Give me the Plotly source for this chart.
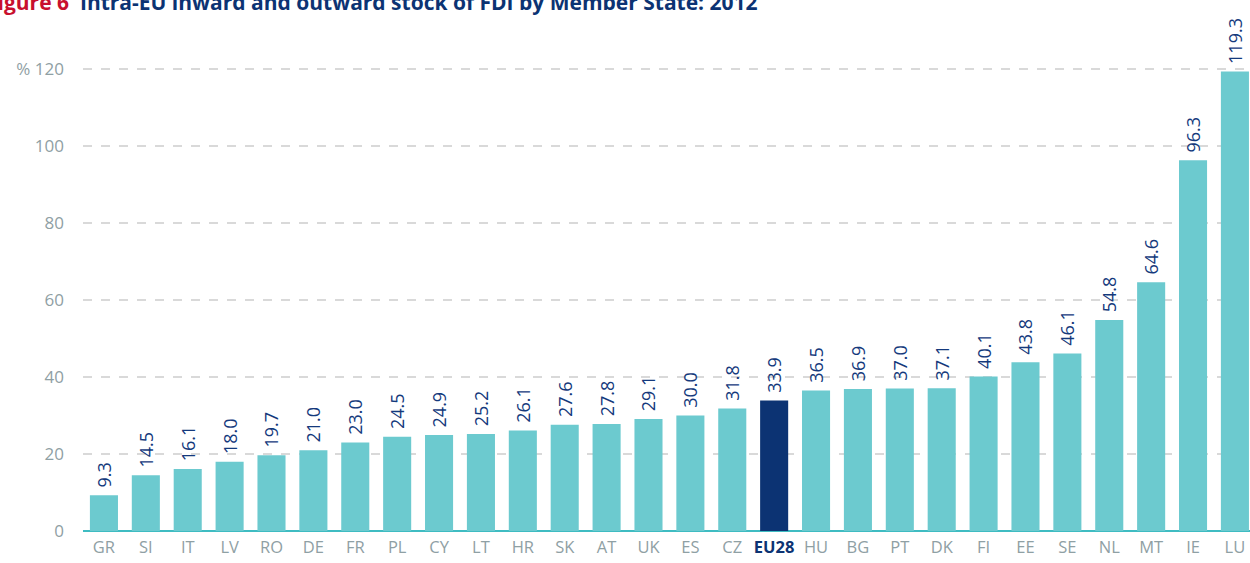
import plotly.graph_objects as go

countries = ["GR","SI","IT","LV","RO","DE","FR","PL","CY","LT","HR","SK","AT","UK","ES","CZ",
             "EU28","HU","BG","PT","DK","FI","EE","SE","NL","MT","IE","LU"]
values = [9.3,14.5,16.1,18.0,19.7,21.0,23.0,24.5,24.9,25.2,26.1,27.6,27.8,29.1,30.0,31.8,
          33.9,36.5,36.9,37.0,37.1,40.1,43.8,46.1,54.8,64.6,96.3,119.3]
y_ticks = [0,20,40,60,80,100,120]
y_ticktext = ["0","20","40","60","80","100","% 120"]

TEAL = "#6ccacf"
NAVY = "#0c3373"
LABEL = "#14397c"
GREY = "#8fa0a4"

colors = [NAVY if c == "EU28" else TEAL for c in countries]
ticktext = [f"<b><span style='color:{NAVY}'>{c}</span></b>" if c == "EU28" else c for c in countries]

fig = go.Figure(go.Bar(
    x=list(range(len(countries))), y=values,
    marker=dict(color=colors, line=dict(width=0)),
    text=[f"\u00a0{v:.1f}" for v in values],
    textposition="outside", textangle=-90,
    constraintext="none",
    textfont=dict(color=LABEL, size=18, family="Open Sans"),
    cliponaxis=False,
))

fig.update_layout(
    width=1250, height=563,
    margin=dict(l=83, r=0, t=0, b=32, autoexpand=False),
    plot_bgcolor="white", paper_bgcolor="white",
    bargap=0.33,
    showlegend=False,
    font=dict(family="Open Sans", color=GREY),
    xaxis=dict(
        range=[-0.5, 27.36],
        tickmode="array", tickvals=list(range(len(countries))), ticktext=ticktext,
        tickfont=dict(size=16.5, color=GREY),
        showgrid=False, zeroline=False, showline=False,
        ticks="", ticklabelstandoff=4, automargin=False,
    ),
    yaxis=dict(
        range=[0, 137.9],
        tickmode="array", tickvals=y_ticks, ticktext=y_ticktext,
        tickfont=dict(size=17, color=GREY),
        showgrid=True, gridcolor="#d9d9d9", griddash="dash", gridwidth=1.5,
        zeroline=True, zerolinecolor="#3fbcc2", zerolinewidth=2,
        showline=False, ticks="", ticklabelstandoff=18, automargin=False,
    ),
)

fig.add_annotation(
    xref="paper", yref="paper", x=-0.0852, y=0.966,
    xanchor="left", yanchor="bottom",
    text="<b><span style='color:#c8102e'>Figure 6</span>  Intra-EU inward and outward stock of FDI by Member State: 2012</b>",
    showarrow=False, font=dict(size=21, color=NAVY, family="Open Sans"),
)

fig.write_html("out.html", config={"displayModeBar": False},
               post_script="document.body.style.margin='0';document.body.style.overflow='hidden';")
